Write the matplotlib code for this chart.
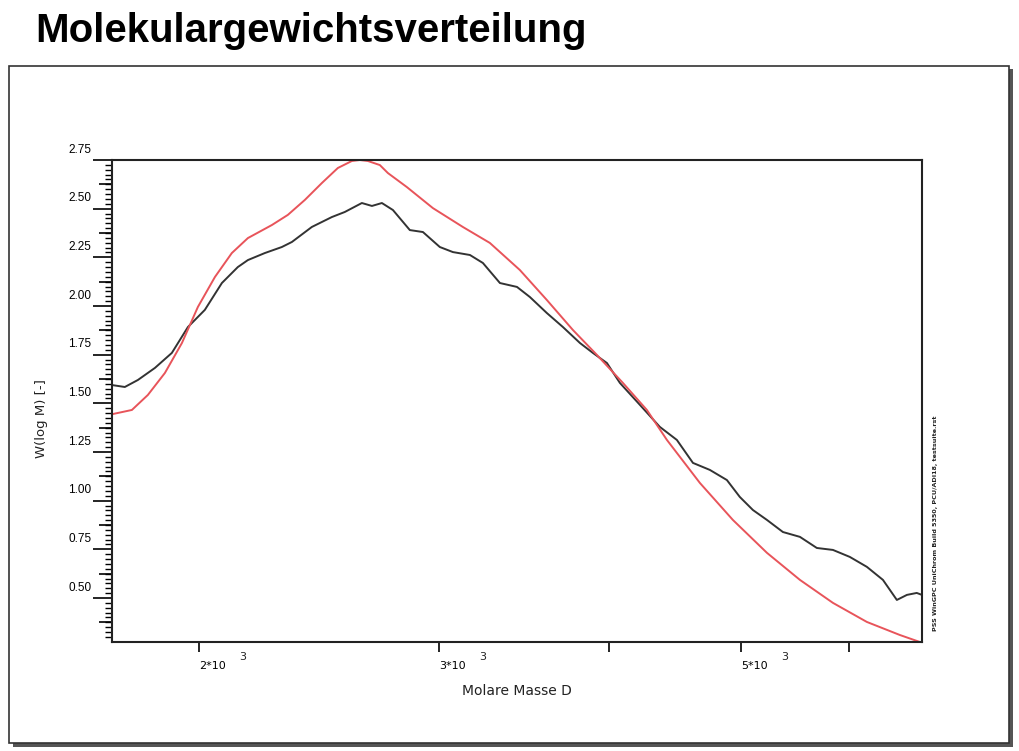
import numpy as np
import matplotlib
matplotlib.use("Agg")
import matplotlib.pyplot as plt
from matplotlib.patches import Rectangle
from matplotlib.transforms import ScaledTranslation

# Molekulargewichtsverteilung: log M and W(log M) of the measured curve and the reference curve
logM_mess = [3.2372, 3.2467, 3.2563, 3.2688, 3.2812, 3.2930, 3.3054, 3.3179, 3.3296, 3.3370,
             3.3494, 3.3619, 3.3693, 3.3839, 3.3986, 3.4081, 3.4206, 3.4280, 3.4353, 3.4434,
             3.4558, 3.4654, 3.4778, 3.4874, 3.4999, 3.5094, 3.5219, 3.5344, 3.5439, 3.5563,
             3.5681, 3.5806, 3.5901, 3.6004, 3.6099, 3.6246, 3.6392, 3.6517, 3.6635, 3.6759,
             3.6884, 3.6979, 3.7075, 3.7178, 3.7295, 3.7420, 3.7544, 3.7662, 3.7786, 3.7911,
             3.8029, 3.8131, 3.8205, 3.8277, 3.8315]
W_mess = [1.594, 1.584, 1.620, 1.682, 1.759, 1.892, 1.980, 2.118, 2.200, 2.236,
          2.272, 2.303, 2.329, 2.406, 2.457, 2.483, 2.529, 2.514, 2.529, 2.493,
          2.390, 2.380, 2.303, 2.277, 2.262, 2.221, 2.118, 2.098, 2.046, 1.964,
          1.892, 1.810, 1.759, 1.707, 1.605, 1.492, 1.379, 1.312, 1.194, 1.158,
          1.106, 1.019, 0.952, 0.901, 0.839, 0.814, 0.757, 0.747, 0.711, 0.660,
          0.593, 0.490, 0.516, 0.526, 0.516]

logM_ref = [3.2379, 3.2519, 3.2636, 3.2761, 3.2886, 3.3003, 3.3128, 3.3252, 3.3370, 3.3546,
            3.3663, 3.3788, 3.3913, 3.4030, 3.4133, 3.4191, 3.4250, 3.4338, 3.4397, 3.4536,
            3.4727, 3.4947, 3.5145, 3.5365, 3.5563, 3.5754, 3.5930, 3.6121, 3.6297, 3.6444,
            3.6686, 3.6928, 3.7178, 3.7420, 3.7662, 3.7911, 3.8153, 3.8300]
W_ref = [1.445, 1.466, 1.543, 1.656, 1.810, 1.995, 2.149, 2.272, 2.349, 2.416,
         2.468, 2.545, 2.632, 2.709, 2.745, 2.750, 2.745, 2.724, 2.683, 2.611,
         2.503, 2.406, 2.324, 2.185, 2.031, 1.877, 1.749, 1.605, 1.466, 1.312,
         1.091, 0.901, 0.732, 0.593, 0.475, 0.377, 0.310, 0.274]

x_ticks = [2000, 3000, 4000, 5000, 6000]
x_labels = ["2*10", "3*10", "", "5*10", ""]
y_ticks = [0.50, 0.75, 1.00, 1.25, 1.50, 1.75, 2.00, 2.25, 2.50, 2.75]

W, H = 1019, 751
fig = plt.figure(figsize=(W / 100, H / 100), dpi=100)

# outer frame with shadow
fig.patches.append(Rectangle((13 / W, 1 - 747 / H), 1000 / W, 678 / H,
                             transform=fig.transFigure, facecolor="#555555", edgecolor="none", zorder=0))
fig.patches.append(Rectangle((9 / W, 1 - 743 / H), 1000 / W, 677 / H,
                             transform=fig.transFigure, facecolor="white", edgecolor="#333333",
                             linewidth=1.2, zorder=1))

fig.text(35 / W, 1 - 42 / H, "Molekulargewichtsverteilung", fontsize=29, fontweight="bold",
         family="Liberation Sans", va="baseline", ha="left")

ax = fig.add_axes([112 / W, 1 - 642 / H, 810 / W, 482 / H])
ax.set_zorder(2)

ax.plot(10 ** np.array(logM_mess), W_mess, color="#333333", linewidth=1.4)
ax.plot(10 ** np.array(logM_ref), W_ref, color="#e8545a", linewidth=1.4)

ax.set_xscale("log")
ax.set_xlim(1727, 6785)
ax.set_ylim(0.274, 2.75)

for s in ax.spines.values():
    s.set_linewidth(1.5)
    s.set_color("#222222")

# x axis
ax.xaxis.set_minor_locator(plt.NullLocator())
ax.set_xticks(x_ticks, x_labels)
ax.tick_params(axis="x", direction="out", length=7, width=1.2, pad=7, labelsize=8)
for lab in ax.get_xticklabels():
    lab.set_horizontalalignment("left")
for xt, lab in zip(x_ticks, x_labels):
    if lab:
        ax.annotate("3", xy=(xt, 0), xycoords=ax.get_xaxis_transform(), xytext=(29, -10.5),
                    textcoords="offset points", fontsize=8, ha="left", va="center", color="#222222")

# y axis: labelled ticks, mid ticks and fine ticks
ax.set_yticks(y_ticks, [f"{v:.2f}" for v in y_ticks])
ax.set_yticks(np.arange(0.3, 2.7501, 0.025), minor=True)
ax.tick_params(axis="y", which="major", direction="out", length=14, width=1.2, pad=1,
               labelsize=8.5)
ax.tick_params(axis="y", which="minor", direction="out", length=5, width=1.0)
for lab in ax.get_yticklabels():
    lab.set_fontfamily("Liberation Sans")
    lab.set_transform(lab.get_transform() + ScaledTranslation(0, 0.12, fig.dpi_scale_trans))

sec = ax.secondary_yaxis("left")
sec.set_yticks(np.arange(0.375, 2.75, 0.25))
sec.yaxis.set_minor_locator(plt.NullLocator())
sec.tick_params(axis="y", direction="out", length=9.5, width=1.2, labelleft=False)
sec.spines["left"].set_visible(False)

ax.set_xlabel("Molare Masse D", fontsize=10, color="#222222")
ax.xaxis.set_label_coords(0.5, -0.087)
ax.set_ylabel("W(log M) [-]", fontsize=9.5, color="#222222")
ax.yaxis.set_label_coords(-0.079, 0.463)

fig.text(935 / W, 1 - 523 / H, "PSS WinGPC UniChrom Build 5350, PCU/ADI18, testsuite.rst",
         rotation=90, fontsize=4.6, fontweight="bold", ha="center", va="center", color="#222222")

fig.savefig("out.png", dpi=100)
